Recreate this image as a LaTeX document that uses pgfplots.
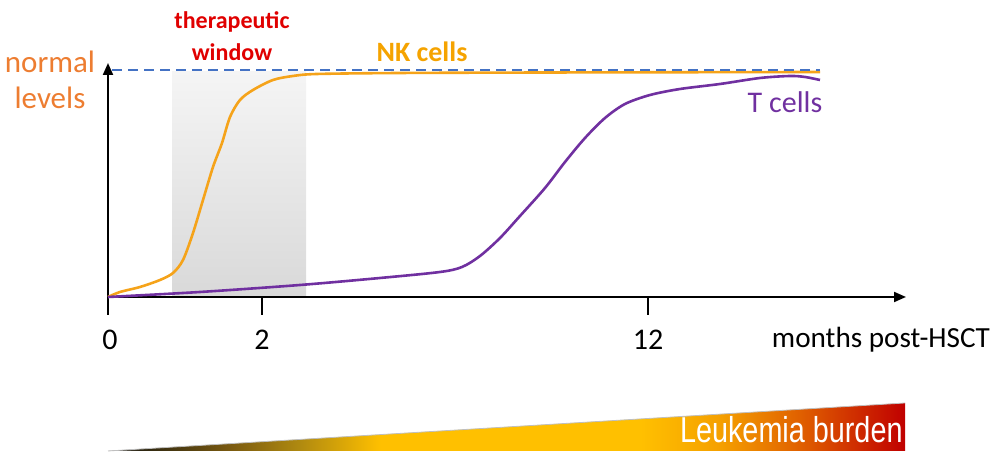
\documentclass[border=0pt]{standalone}
\usepackage{pgfplots}
\pgfplotsset{compat=1.18}
\usepackage{fontspec}
\setmainfont{Carlito}
\newfontfamily\narrowfont[FakeStretch=0.80]{Liberation Sans}
\usetikzlibrary{arrows.meta}
\definecolor{nkorange}{HTML}{F5A31A}
\definecolor{nktext}{HTML}{F5A300}
\definecolor{normtext}{HTML}{ED7D31}
\definecolor{tpurple}{HTML}{7030A0}
\definecolor{dashblue}{HTML}{4472C4}
\definecolor{winred}{HTML}{E00000}
\definecolor{lkgray}{HTML}{707070}
\definecolor{lkdark}{HTML}{2A2410}
\definecolor{lkbrown}{HTML}{7A5A10}
\definecolor{lkolive}{HTML}{B08A10}
\definecolor{lkyellow}{HTML}{FFC000}
\definecolor{lkamber}{HTML}{F5A000}
\definecolor{lkorange}{HTML}{E06000}
\definecolor{lkred}{HTML}{C00000}
\pgfdeclarehorizontalshading{leuk}{100bp}{color(0bp)=(lkgray); color(25bp)=(lkgray); color(27bp)=(lkdark); color(32.65bp)=(lkbrown); color(37.05bp)=(lkolive); color(42.1bp)=(lkyellow); color(58.4bp)=(lkyellow); color(63.4bp)=(lkamber); color(68.4bp)=(lkorange); color(75bp)=(lkred); color(100bp)=(lkred)}
\begin{document}
\begin{tikzpicture}
\useasboundingbox (0,0) rectangle (496pt,226.5pt);
\begin{axis}[
  scale only axis, width=496pt, height=226.5pt,
  xmin=0, xmax=992, ymin=0, ymax=453,
  hide axis, clip=false,
]
% therapeutic window
\shade[top color=gray!8, bottom color=gray!30] (axis cs:172,156) rectangle (axis cs:306,381);
% axes
\draw[line width=1pt] (axis cs:108,138) -- (axis cs:108,156);
\draw[line width=1pt, -{Triangle[length=6pt,width=5pt]}] (axis cs:108,156) -- (axis cs:108,390);
\draw[line width=1pt, -{Triangle[length=6pt,width=5pt]}] (axis cs:108,156) -- (axis cs:906,156);
\draw[line width=1pt] (axis cs:262,156) -- (axis cs:262,138);
\draw[line width=1pt] (axis cs:648,156) -- (axis cs:648,138);
% curves
\addplot[nkorange, line width=1.3pt, smooth, tension=0.5] coordinates {
(108,156) (120,161) (140,166) (160,173) (173,180) (183,193) (193,220) (203,253) (213,286) (222,310) (230,336) (240,353) (253,363) (273,373) (293,377) (317,379) (400,380) (550,380.5) (820,381)};
\addplot[tpurple, line width=1.3pt, smooth, tension=0.5] coordinates {
(108,156) (200,161) (300,168) (380,175) (440,181) (462,186) (480,197) (500,215) (520,237) (545,265) (565,291) (585,315) (605,335) (625,349) (650,358) (680,364) (720,369) (760,375) (790,377) (805,376) (820,373)};
\addplot[dashblue, line width=1pt, dash pattern=on 5pt off 3pt] coordinates {(112,383) (820,383)};
% labels
\node[font=\fontsize{15}{17}\selectfont] at (axis cs:110,113) {0};
\node[font=\fontsize{15}{17}\selectfont] at (axis cs:262,113) {2};
\node[font=\fontsize{15}{17}\selectfont] at (axis cs:648,113) {12};
\node[font=\fontsize{14.6}{17}\selectfont] at (axis cs:881,113) {months post-HSCT};
\node[normtext, font=\fontsize{15.5}{17}\selectfont] at (axis cs:50,391) {normal};
\node[normtext, font=\fontsize{15.5}{17}\selectfont] at (axis cs:50,355) {levels};
\node[winred, font=\bfseries\fontsize{12}{14}\selectfont] at (axis cs:232,431) {therapeutic};
\node[winred, font=\bfseries\fontsize{12}{14}\selectfont] at (axis cs:232,401) {window};
\node[nktext, font=\bfseries\fontsize{14}{16}\selectfont] at (axis cs:422,401) {NK cells};
\node[tpurple, font=\fontsize{15}{17}\selectfont] at (axis cs:785,351) {T cells};
% leukemia burden wedge
\shade[shading=leuk] (axis cs:108,2) -- (axis cs:905,50) -- (axis cs:905,2) -- cycle;
\draw[gray!50, line width=0.4pt] (axis cs:108,2) -- (axis cs:905,50);
\node[white, anchor=south east, inner sep=0pt, font=\narrowfont\fontsize{18}{20}\selectfont] at (axis cs:903,10) {Leukemia burden};
\end{axis}
\end{tikzpicture}
\end{document}
